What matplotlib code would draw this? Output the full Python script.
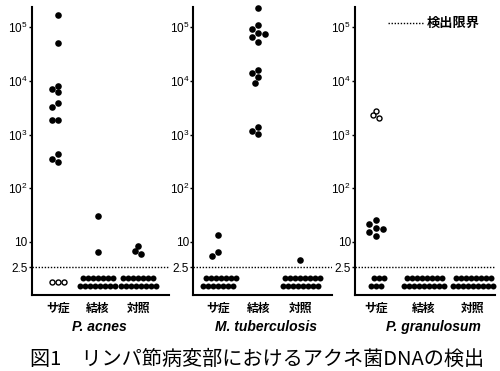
import numpy as np
import matplotlib
matplotlib.use("Agg")
import matplotlib.pyplot as plt
from matplotlib.lines import Line2D
from matplotlib.transforms import blended_transform_factory

# ---------------- data ----------------
groups = ["サ症", "結核", "対照"]
species = ["P. acnes", "M. tuberculosis", "P. granulosum"]

# detected copies (filled circles)
pacnes_sar = [171000, 51400, 8150, 7060, 6140, 3930, 3270, 1900, 1900, 430, 347, 309]
pacnes_tb = [30.5, 5.65]
pacnes_ctrl = [8.0, 5.97, 5.06]
mtb_sar = [13.3, 5.65, 4.53]
mtb_tb = [225000, 110000, 91400, 79100, 74700, 64900, 53700,
          15700, 14200, 11700, 9020, 1370, 1180, 1010]
mtb_ctrl = [3.69]
pgran_sar = [25.7, 21.9, 18.2, 17.7, 15.2, 12.8]
pgran_tb = []
pgran_ctrl = []

# open circles (detected)
pgran_sar_open = [2790, 2320, 2010]

# below detection limit: (upper row count, lower row count)
nd_counts = {
    0: [(0, 0), (7, 8), (7, 8)],
    1: [(7, 7), (0, 0), (8, 8)],
    2: [(3, 3), (8, 9), (8, 9)],
}
# open circles below detection limit
nd_open = {0: [3, 0, 0], 1: [0, 0, 0], 2: [0, 0, 0]}

detected = [
    [pacnes_sar, pacnes_tb, pacnes_ctrl],
    [mtb_sar, mtb_tb, mtb_ctrl],
    [pgran_sar, pgran_tb, pgran_ctrl],
]
open_detected = [[[], [], []], [[], [], []], [pgran_sar_open, [], []]]

detection_limit = 2.5
ytick_vals = [2.5, 10, 1e2, 1e3, 1e4, 1e5]
ytick_labels = ["2.5", "10", "$10^{2}$", "$10^{3}$", "$10^{4}$", "$10^{5}$"]

# ---------------- scale ----------------
K = 0.774


def fwd(v):
    v = np.clip(np.asarray(v, float), 1e-3, None)
    lv = np.log10(v)
    return np.where(lv >= 1, lv, 1 - K * (1 - lv))


def inv(c):
    c = np.asarray(c, float)
    return np.where(c >= 1, 10 ** c, 10 ** (1 - (1 - c) / K))


plt.rcParams["font.family"] = ["Liberation Sans Narrow", "Liberation Sans", "DejaVu Sans"]
plt.rcParams["mathtext.default"] = "regular"

W, H = 500, 371
fig = plt.figure(figsize=(W / 100, H / 100), dpi=100)

panel_left = [31.6, 193.3, 355]
panel_width = [137.4, 138.7, 140]
ax_bottom, ax_top = 295, 7
centers = [[26.5, 66, 106.5], [25, 65, 107], [21, 69, 118]]
species_x = [99, 266, 433]

d_px = 6.6      # dot diameter in px
nd_sp = 5.0     # spacing of the non-detected rows
ms_pt = d_px * 0.72
nd_ms_pt = 6.0 * 0.72


def swarm(ax, cx, values, d):
    if len(values) == 0:
        return np.array([]), np.array([])
    vals = np.array(values, float)
    order = np.argsort(-vals)
    vals = vals[order]
    ys = ax.transData.transform(np.column_stack([np.full(len(vals), cx), vals]))[:, 1]
    step = d / 2.0
    cands = [0.0]
    for k in range(1, 20):
        cands += [-k * step, k * step]
    placed = []
    xs = []
    for y in ys:
        for off in cands:
            x = cx + off
            ok = all((x - px) ** 2 + (y - py) ** 2 >= (0.92 * d) ** 2 for px, py in placed)
            if ok:
                break
        placed.append((x, y))
        xs.append(x)
    return np.array(xs), vals


for i in range(3):
    ax = fig.add_axes([panel_left[i] / W, (H - ax_bottom) / H,
                       panel_width[i] / W, (ax_bottom - ax_top) / H])
    ax.set_yscale("function", functions=(fwd, inv))
    ax.set_ylim(0.53, 2.38e5)
    ax.set_xlim(0, panel_width[i])
    for s in ["top", "right"]:
        ax.spines[s].set_visible(False)
    for s in ["left", "bottom"]:
        ax.spines[s].set_linewidth(1.5)
    ax.set_yticks(ytick_vals)
    ax.set_yticklabels(ytick_labels, fontsize=8.5)
    ax.yaxis.set_minor_locator(matplotlib.ticker.NullLocator())
    ax.tick_params(axis="y", length=2, width=1, pad=1)
    ax.set_xticks(centers[i])
    ax.set_xticklabels(groups, family=["Noto Sans CJK JP"], fontsize=8.5, fontweight="bold")
    ax.tick_params(axis="x", length=0, pad=5)

    ax.axhline(detection_limit, color="black", lw=1.0, ls=(0, (1, 1.2)))

    trans = blended_transform_factory(ax.transData, ax.transAxes)
    for g in range(3):
        cx = centers[i][g]
        xs, vs = swarm(ax, cx, detected[i][g], d_px)
        if len(xs):
            ax.scatter(xs, vs, s=ms_pt ** 2, color="black", linewidths=0, zorder=3,
                       clip_on=False)
        xo, vo = swarm(ax, cx, open_detected[i][g], 5.5)
        if len(xo):
            ax.scatter(xo, vo, s=(5.0 * 0.72) ** 2, facecolor="white",
                       edgecolor="black", linewidths=1.0, zorder=3, clip_on=False)
        n_top, n_bot = nd_counts[i][g]
        if n_bot:
            start = cx - (n_bot - 1) / 2 * nd_sp
            xb = start + nd_sp * np.arange(n_bot)
            ax.scatter(xb, np.full(n_bot, 0.031), transform=trans, s=nd_ms_pt ** 2,
                       color="black", linewidths=0, zorder=3, clip_on=False)
            xt = start + 0.5 * nd_sp + nd_sp * np.arange(n_top)
            ax.scatter(xt, np.full(n_top, 0.059), transform=trans, s=nd_ms_pt ** 2,
                       color="black", linewidths=0, zorder=3, clip_on=False)
        n_open = nd_open[i][g]
        if n_open:
            xo = cx - (n_open - 1) / 2 * 6.0 + 6.0 * np.arange(n_open)
            ax.scatter(xo, np.full(n_open, 0.044), transform=trans, s=(5.0 * 0.72) ** 2,
                       facecolor="white", edgecolor="black", linewidths=1.0, zorder=3)

    fig.text(species_x[i] / W, (H - 327) / H, species[i], ha="center", va="center",
             fontsize=10, style="italic", fontweight="bold")

# legend
fig.add_artist(Line2D([387.7 / W, 423 / W], [(H - 23.3) / H] * 2, transform=fig.transFigure,
                      color="black", lw=1.0, ls=(0, (1, 1.2))))
fig.text(427 / W, (H - 23.3) / H, "検出限界", ha="left", va="center",
         family=["Noto Sans CJK JP"], fontsize=9.5, fontweight="bold")

fig.text(257 / W, (H - 359) / H, "図1\u3000リンパ節病変部におけるアクネ菌DNAの検出",
         ha="center", va="center", family=["Noto Sans CJK JP"], fontsize=14.5)

fig.savefig("out.png", dpi=100)
